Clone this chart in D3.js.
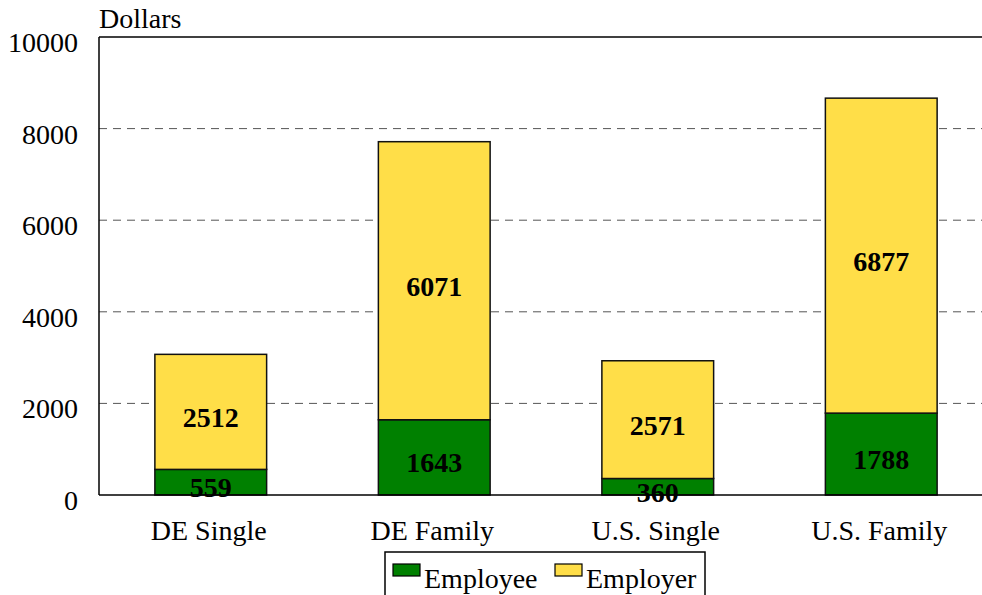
<!DOCTYPE html>
<html>
<head>
<meta charset="utf-8">
<script src="https://cdn.jsdelivr.net/npm/d3@7"></script>
<style>
  body { margin: 0; background: #fff; }
  svg text { font-family: "Liberation Serif", "DejaVu Serif", serif; }
</style>
</head>
<body>
<div id="chart"></div>
<script>
  // chart data
  var categories = ['DE Single', 'DE Family', 'U.S. Single', 'U.S. Family'];
  var employee = [559, 1643, 360, 1788];
  var employer = [2512, 6071, 2571, 6877];
  var seriesNames = ['Employee', 'Employer'];
  var yTicks = [0, 2000, 4000, 6000, 8000, 10000];

  var width = 982, height = 595;
  var colors = { Employee: '#008000', Employer: '#ffde48' };
  var serif = '"Liberation Serif", "DejaVu Serif", serif';

  var svg = d3.select('#chart').append('svg')
    .attr('width', width)
    .attr('height', height);

  var x = d3.scaleBand()
    .domain(categories)
    .range([99, 993])
    .paddingInner(0.5)
    .paddingOuter(0.25);

  var y = d3.scaleLinear()
    .domain([0, 10000])
    .range([495, 37]);

  // dashed grid
  svg.append('g')
    .selectAll('line')
    .data(yTicks.filter(function (t) { return t > 0 && t < 10000; }))
    .enter().append('line')
    .attr('x1', 99).attr('x2', width)
    .attr('y1', function (d) { return y(d); })
    .attr('y2', function (d) { return y(d); })
    .attr('stroke', '#555')
    .attr('stroke-width', 1)
    .attr('stroke-dasharray', '8,6');

  // bars
  var rows = categories.map(function (c, i) {
    return { cat: c, emp: employee[i], er: employer[i] };
  });

  var stack = d3.stack().keys(['emp', 'er'])(rows);

  stack.forEach(function (layer, li) {
    var name = seriesNames[li];
    svg.append('g').selectAll('rect')
      .data(layer)
      .enter().append('rect')
      .attr('x', function (d) { return x(d.data.cat); })
      .attr('width', x.bandwidth())
      .attr('y', function (d) { return y(d[1]); })
      .attr('height', function (d) { return y(d[0]) - y(d[1]); })
      .attr('fill', colors[name])
      .attr('stroke', '#111')
      .attr('stroke-width', 1.5);

    svg.append('g').selectAll('text')
      .data(layer)
      .enter().append('text')
      .attr('x', function (d) { return x(d.data.cat) + x.bandwidth() / 2; })
      .attr('y', function (d) { return y((d[0] + d[1]) / 2); })
      .attr('dy', 15)
      .attr('text-anchor', 'middle')
      .attr('font-family', serif)
      .attr('font-size', 28)
      .attr('font-weight', 'bold')
      .attr('fill', '#000')
      .text(function (d) { return d[1] - d[0]; });
  });

  // frame: left, top, bottom
  svg.append('line')
    .attr('x1', 99).attr('x2', 99).attr('y1', 37).attr('y2', 495)
    .attr('stroke', '#000').attr('stroke-width', 1.5);
  svg.append('line')
    .attr('x1', 99).attr('x2', width).attr('y1', 37).attr('y2', 37)
    .attr('stroke', '#000').attr('stroke-width', 1.5);
  svg.append('line')
    .attr('x1', 99).attr('x2', width).attr('y1', 495).attr('y2', 495)
    .attr('stroke', '#000').attr('stroke-width', 1.5);

  // y tick labels
  svg.append('g').selectAll('text')
    .data(yTicks)
    .enter().append('text')
    .attr('x', 78)
    .attr('y', function (d) { return y(d); })
    .attr('dy', 15)
    .attr('text-anchor', 'end')
    .attr('font-family', serif)
    .attr('font-size', 28)
    .text(function (d) { return d; });

  // category labels
  svg.append('g').selectAll('text')
    .data(categories)
    .enter().append('text')
    .attr('x', function (d) { return x(d) + x.bandwidth() / 2 - 2; })
    .attr('y', 540)
    .attr('text-anchor', 'middle')
    .attr('font-family', serif)
    .attr('font-size', 28)
    .text(function (d) { return d; });

  svg.append('text')
    .attr('x', 99).attr('y', 28)
    .attr('font-family', serif)
    .attr('font-size', 28)
    .text('Dollars');

  // legend
  var legend = svg.append('g');
  legend.append('rect')
    .attr('x', 385).attr('y', 552)
    .attr('width', 320).attr('height', 50)
    .attr('fill', '#fff')
    .attr('stroke', '#000').attr('stroke-width', 1.5);

  var legendX = [393, 555];
  seriesNames.forEach(function (name, i) {
    legend.append('rect')
      .attr('x', legendX[i]).attr('y', 564)
      .attr('width', 27).attr('height', 12)
      .attr('fill', colors[name])
      .attr('stroke', '#000').attr('stroke-width', 1.2);
    legend.append('text')
      .attr('x', legendX[i] + 31).attr('y', 588)
      .attr('font-family', serif)
      .attr('font-size', 28)
      .text(name);
  });
</script>
</body>
</html>
